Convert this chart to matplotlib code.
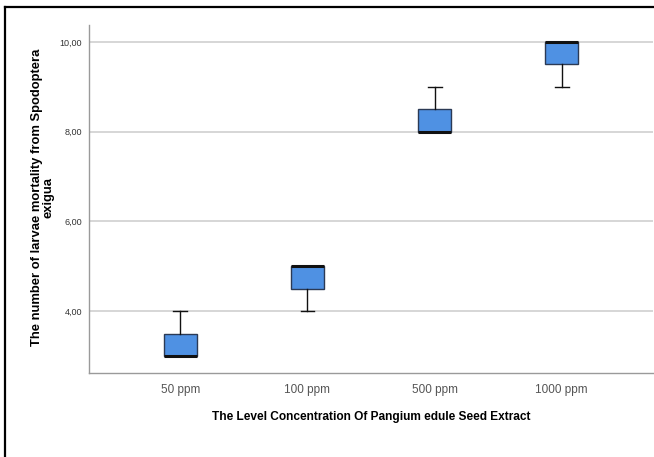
import matplotlib
matplotlib.use("Agg")
import matplotlib.pyplot as plt
from matplotlib.lines import Line2D

plt.rcParams['font.family'] = ['Liberation Sans', 'DejaVu Sans']

# box statistics
categories = ['50 ppm', '100 ppm', '500 ppm', '1000 ppm']
whislo = [3.0, 4.0, 8.0, 9.0]
q1 = [3.0, 4.5, 8.0, 9.5]
median = [3.0, 5.0, 8.0, 10.0]
q3 = [3.5, 5.0, 8.5, 10.0]
whishi = [4.0, 5.0, 9.0, 10.0]
yticks = [4, 6, 8, 10]
ytick_labels = ['4,00', '6,00', '8,00', '10,00']

stats = []
for i, name in enumerate(categories):
    stats.append({'label': name, 'whislo': whislo[i], 'q1': q1[i], 'med': median[i],
                  'q3': q3[i], 'whishi': whishi[i], 'fliers': []})

fig = plt.figure(figsize=(6.54, 4.57), dpi=100)
ax = fig.add_axes([89 / 654, 84 / 457, 564 / 654, 348 / 457])

ax.set_axisbelow(True)
ax.grid(axis='y', color='#cfcfcf', linewidth=1.2)
ax.bxp(stats, positions=range(len(categories)), widths=0.26, patch_artist=True,
       showfliers=False,
       boxprops=dict(facecolor='#4f91e3', edgecolor='#2b3a55', linewidth=1.0),
       medianprops=dict(color='#111111', linewidth=2.2),
       whiskerprops=dict(color='#111111', linewidth=1.0),
       capprops=dict(color='#111111', linewidth=1.0),
       capwidths=0.11)

ax.set_xlim(-0.72, 3.72)
ax.set_ylim(2.62, 10.38)
ax.set_yticks(yticks)
ax.set_yticklabels(ytick_labels, fontsize=6.5, color='#333333')
ax.set_xticks(range(len(categories)))
ax.set_xticklabels(categories, fontsize=8.5, color='#555555')
ax.tick_params(length=0, pad=5)
ax.tick_params(axis='x', pad=8)

for s in ['top', 'right']:
    ax.spines[s].set_visible(False)
for s in ['left', 'bottom']:
    ax.spines[s].set_color('#9a9a9a')
    ax.spines[s].set_linewidth(1.0)

ax.set_xlabel('The Level Concentration Of Pangium edule Seed Extract',
              fontsize=8.6, fontweight='bold', labelpad=11)
fig.text(43 / 654, 0.568, 'The number of larvae mortality from Spodoptera\nexigua',
         rotation=90, ha='center', va='center', fontsize=9.4, fontweight='bold',
         linespacing=0.9)

# outer frame: top and left edges of the picture
fig.lines.append(Line2D([5.5 / 654, 5.5 / 654], [0, 450 / 457], transform=fig.transFigure,
                        color='black', linewidth=1.6))
fig.lines.append(Line2D([5.5 / 654, 1], [450 / 457, 450 / 457], transform=fig.transFigure,
                        color='black', linewidth=1.6))

fig.savefig('out.png', dpi=100)
